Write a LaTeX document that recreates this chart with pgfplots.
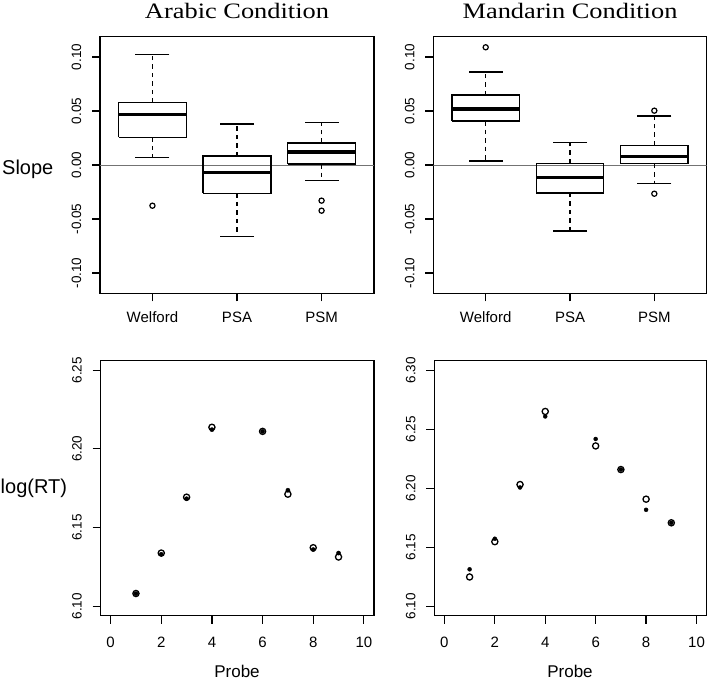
\documentclass[border=0pt]{standalone}
\usepackage{fontspec}
\setmainfont{Liberation Sans}
\newfontfamily\titlefont[FakeStretch=1.2]{Liberation Serif}
\usepackage{pgfplots}
\pgfplotsset{compat=1.18}

\pgfplotsset{
  rax/.style={
    scale only axis,
    axis line style={line width=1.5pt, black},
    tick style={line width=1.2pt, black},
    tick align=outside,
    major tick length=8pt,
    xtick pos=bottom, ytick pos=left,
    scaled y ticks=false, scaled x ticks=false,
    /pgf/number format/assume math mode=true,
    yticklabel style={font=\fontsize{13.5}{13.5}\selectfont, inner sep=0pt,
      xshift=-11pt, rotate=90, anchor=base,
      /pgf/number format/fixed, /pgf/number format/fixed zerofill,
      /pgf/number format/precision=2},
  },
  boxtop/.style={rax,
    xmin=0.38, xmax=3.62, ymin=-0.1188, ymax=0.1188,
    xtick={1,2,3}, xticklabels={Welford,PSA,PSM},
    ytick={-0.1,-0.05,0,0.05,0.1},
    xticklabel style={font=\fontsize{15}{15}\selectfont, inner sep=0pt, anchor=base, yshift=-21.4pt},
  },
  scat/.style={rax,
    xmin=-0.4, xmax=10.4,
    xtick={0,2,4,6,8,10},
    xticklabel style={font=\fontsize{15}{15}\selectfont, inner sep=0pt, anchor=base, yshift=-23.3pt},
  },
  boxdraw/.style={black, line width=1.5pt, no markers, line join=miter},
  medline/.style={black, line width=3.6pt, no markers},
  whisk/.style={black, line width=1.5pt, no markers, dash pattern=on 4.5pt off 4pt},
  capmark/.style={black, only marks, mark=-, mark size=17pt, mark options={line width=1.5pt}},
  outl/.style={black, only marks, mark=o, mark size=2.6pt, mark options={line width=1.2pt}},
  zline/.style={black!55, line width=0.9pt, no markers},
  openpt/.style={black, only marks, mark=o, mark size=3.1pt, mark options={line width=1.3pt}},
  fillpt/.style={black, only marks, mark=*, mark size=2.1pt},
}

% #1 x, #2 left, #3 right, #4 lower whisker, #5 q1, #6 median, #7 q3, #8 upper whisker
\newcommand{\rbox}[8]{%
  \addplot[whisk] coordinates {(#1,#7) (#1,#8)};
  \addplot[whisk] coordinates {(#1,#5) (#1,#4)};
  \addplot[capmark] coordinates {(#1,#4) (#1,#8)};
  \addplot[boxdraw] coordinates {(#2,#5) (#3,#5) (#3,#7) (#2,#7) (#2,#5)};
  \addplot[medline] coordinates {(#2,#6) (#3,#6)};
}

\begin{document}
\begin{tikzpicture}
\useasboundingbox (0pt,0pt) rectangle (708pt,680pt);

% ---------- top left: Arabic slopes ----------
\begin{axis}[boxtop, at={(100pt,386.7pt)}, anchor=south west, width=274pt, height=256.6pt]
  \addplot[zline] coordinates {(0.38,0) (3.62,0)};
  \rbox{1}{0.6}{1.4}{0.0068}{0.0256}{0.0469}{0.0577}{0.1021}
  \rbox{2}{1.6}{2.4}{-0.0664}{-0.0262}{-0.0068}{0.0083}{0.0380}
  \rbox{3}{2.6}{3.4}{-0.0142}{0.0009}{0.0120}{0.0204}{0.0392}
  \addplot[outl] coordinates {(1,-0.0377) (3,-0.0330) (3,-0.0423)};
\end{axis}

% ---------- top right: Mandarin slopes ----------
\begin{axis}[boxtop, at={(433.4pt,386.7pt)}, anchor=south west, width=273.2pt, height=256.6pt]
  \addplot[zline] coordinates {(0.38,0) (3.62,0)};
  \rbox{1}{0.6}{1.4}{0.0037}{0.0407}{0.0519}{0.0648}{0.0861}
  \rbox{2}{1.6}{2.4}{-0.0611}{-0.0259}{-0.0114}{0.0015}{0.0207}
  \rbox{3}{2.6}{3.4}{-0.0173}{0.0012}{0.0080}{0.0182}{0.0454}
  \addplot[outl] coordinates {(1,0.1090) (3,0.0503) (3,-0.0266)};
\end{axis}

% ---------- bottom left: Arabic log(RT) ----------
\begin{axis}[scat, at={(100.5pt,64.3pt)}, anchor=south west, width=273.5pt, height=255pt,
  ymin=6.094, ymax=6.256, ytick={6.10,6.15,6.20,6.25}]
  \addplot[fillpt] coordinates {(1,6.1080) (2,6.1330) (3,6.1683) (4,6.2122) (6,6.2111) (7,6.1737) (8,6.1360) (9,6.1338)};
  \addplot[openpt] coordinates {(1,6.1081) (2,6.1338) (3,6.1693) (4,6.2137) (6,6.2111) (7,6.1712) (8,6.1372) (9,6.1313)};
\end{axis}

% ---------- bottom right: Mandarin log(RT) ----------
\begin{axis}[scat, at={(434.3pt,64.3pt)}, anchor=south west, width=272.3pt, height=255pt,
  ymin=6.092, ymax=6.308, ytick={6.10,6.15,6.20,6.25,6.30}]
  \addplot[fillpt, mark size=2pt] coordinates {(1,6.1313) (2,6.1572) (3,6.2006) (4,6.2608) (6,6.2417) (7,6.2158) (8,6.1817) (9,6.1707)};
  \addplot[openpt] coordinates {(1,6.1248) (2,6.1547) (3,6.2031) (4,6.2650) (6,6.2358) (7,6.2158) (8,6.1907) (9,6.1707)};
\end{axis}

% ---------- titles and labels ----------
\node[anchor=base, inner sep=0pt, font=\titlefont\fontsize{22}{22}\selectfont] at (237pt,661.5pt) {Arabic Condition};
\node[anchor=base, inner sep=0pt, font=\titlefont\fontsize{22}{22}\selectfont] at (570pt,661.5pt) {Mandarin Condition};
\node[anchor=base west, inner sep=0pt, font=\fontsize{20}{20}\selectfont] at (2pt,505pt) {Slope};
\node[anchor=base west, inner sep=0pt, font=\fontsize{20}{20}\selectfont] at (0.5pt,187pt) {log(RT)};
\node[anchor=base, inner sep=0pt, font=\fontsize{17}{17}\selectfont] at (237pt,2.5pt) {Probe};
\node[anchor=base, inner sep=0pt, font=\fontsize{17}{17}\selectfont] at (570pt,2.5pt) {Probe};
\end{tikzpicture}
\end{document}
